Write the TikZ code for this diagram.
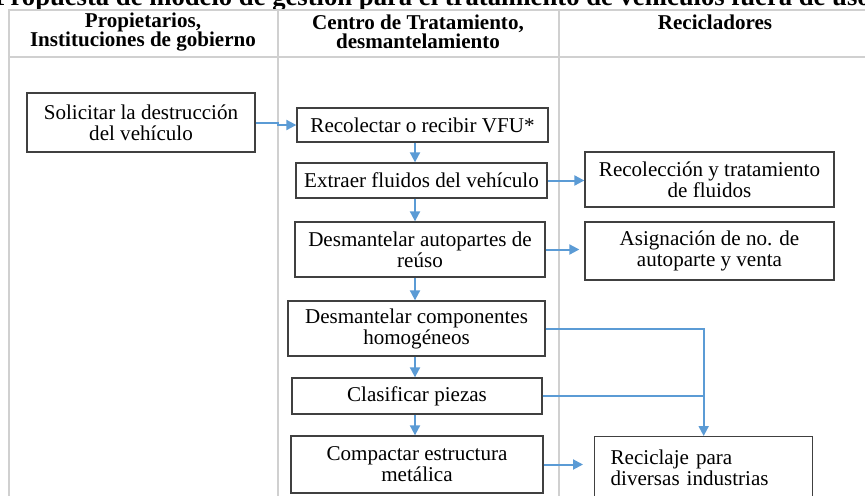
\documentclass[tikz,border=0pt]{standalone}
\usepackage{fontspec}
\setmainfont{Liberation Serif}
\usetikzlibrary{arrows.meta}
\newlength\px
\setlength\px{0.75pt}
\definecolor{azul}{HTML}{5B9BD5}
\definecolor{rejilla}{HTML}{D0D0D0}
\definecolor{borde}{HTML}{404040}
\begin{document}
\begin{tikzpicture}[x=\px,y=-\px]
        \tikzstyle{paso}=[draw=borde, line width=1pt, inner sep=0pt, align=center, font=\fontsize{15.8}{15.8}\selectfont]
        \tikzstyle{cabecera}=[align=center, inner sep=0pt, font=\fontsize{15.8}{14.6}\selectfont\bfseries]
        \tikzstyle{flecha}=[draw=azul, line width=1.5pt, -{Triangle[length=7.5pt,width=7.5pt]}]
        \tikzstyle{linea}=[draw=azul, line width=1.5pt]
        \clip (0,0) rectangle (865,496);
        \fill[white] (0,0) rectangle (865,496);
        \node[cabecera, font=\fontsize{20}{20}\selectfont\bfseries, anchor=base west] (titulo) at (-6,6) {Propuesta de modelo de gestión para el tratamiento de vehículos fuera de uso};
        \draw[rejilla, line width=1.1pt] (9,496) -- (9,10) -- (870,10);
        \draw[rejilla, line width=1.1pt] (9,57) -- (870,57);
        \draw[rejilla, line width=1.1pt] (278,10) -- (278,496);
        \draw[rejilla, line width=1.1pt] (559,10) -- (559,496);
        \node[cabecera] (prop) at (143,32) {Propietarios,\\Instituciones de gobierno};
        \node[cabecera] (centro) at (418,32) {Centro de Tratamiento,\\desmantelamiento};
        \node[cabecera] (recic) at (715,22) {Recicladores};
        \coordinate (eje) at (415,0);
        \node[paso, minimum width=228\px, minimum height=59\px] (sol) at (141,122.5) {Solicitar la destrucción\\del vehículo};
        \node[paso, minimum width=251\px, minimum height=34\px] (rec) at (422.5,125) {Recolectar o recibir VFU*};
        \node[paso, minimum width=251\px, minimum height=35\px] (ext) at (421.5,180.5) {Extraer fluidos del vehículo};
        \node[paso, minimum width=250\px, minimum height=55\px] (dap) at (420,249.5) {Desmantelar autopartes de\\reúso};
        \node[paso, minimum width=257\px, minimum height=55\px] (dch) at (416.5,328.5) {Desmantelar componentes\\homogéneos};
        \node[paso, minimum width=250\px, minimum height=36\px] (cla) at (417,396) {Clasificar piezas};
        \node[paso, minimum width=252\px, minimum height=57\px] (com) at (417,464.5) {Compactar estructura\\metálica};
        \node[paso, minimum width=249\px, minimum height=55\px] (rtf) at (709.5,179.5) {Recolección y tratamiento\\de fluidos};
        \node[paso, minimum width=249\px, minimum height=58\px] (asg) at (709.5,251) {Asignación de no. de\\autoparte y venta};
        \node[paso, anchor=north west, align=left, text width=186\px, inner xsep=16\px, minimum height=62\px] (rci) at (594,436) {Reciclaje para\\diversas industrias};
        \draw[flecha] (sol.east) -- ++(22,0) |- (rec.west);
        \draw[flecha] (rec.south -| eje) -- (ext.north -| eje);
        \draw[flecha] (ext.south -| eje) -- (dap.north -| eje);
        \draw[flecha] (dap.south -| eje) -- (dch.north -| eje);
        \draw[flecha] (dch.south -| eje) -- (cla.north -| eje);
        \draw[flecha] (cla.south -| eje) -- (com.north -| eje);
        \draw[flecha] (ext.east) -- (ext.east -| rtf.west);
        \draw[flecha] (dap.east) -- ([xshift=-5\px]dap.east -| asg.west);
        \draw[flecha] (dch.east) -| (rci.north);
        \draw[linea] (cla.east) -- (cla.east -| rci.north);
        \draw[flecha] (com.east) -- ([xshift=-11\px]com.east -| rci.west);
\end{tikzpicture}
\end{document}
